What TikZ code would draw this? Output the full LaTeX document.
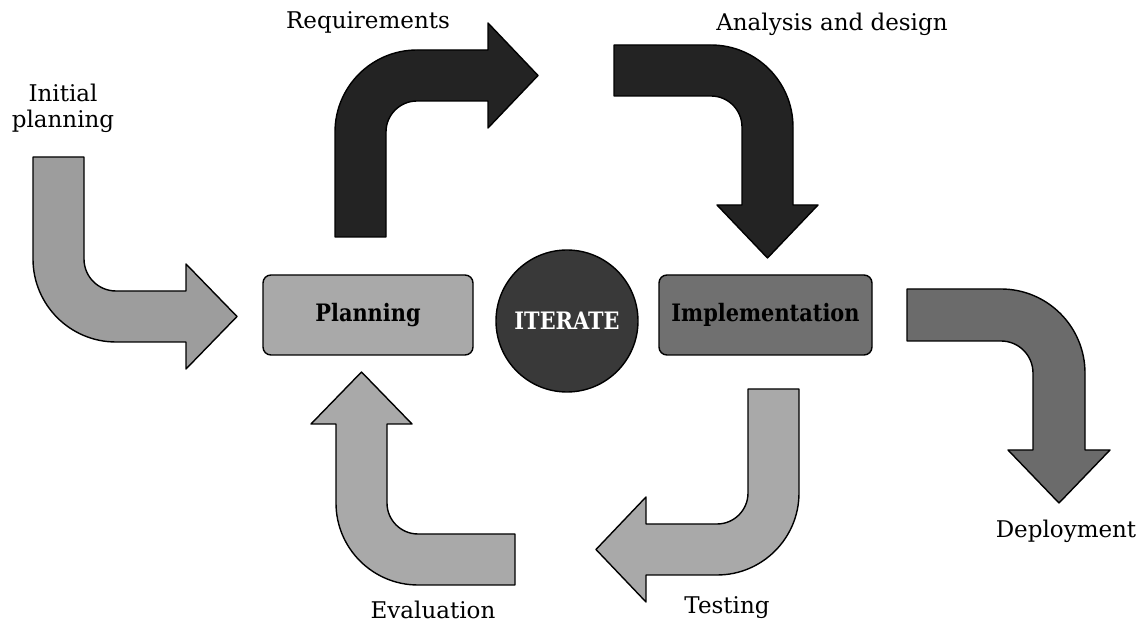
\documentclass[tikz,border=0pt]{standalone}
\usepackage{fontspec}
\setmainfont{DejaVu Serif}
\newfontfamily\boxfont[FakeStretch=0.87]{DejaVu Serif}
\definecolor{lightgrey}{HTML}{A9A9A9}
\definecolor{initgrey}{HTML}{9D9D9D}
\definecolor{midgrey}{HTML}{707070}
\definecolor{deepgrey}{HTML}{6B6B6B}
\definecolor{nearblack}{HTML}{232323}
\definecolor{iterfill}{HTML}{393939}

\begin{document}
\begin{tikzpicture}[x=0.5pt,y=-0.5pt,
    bent/.style={draw=black, line width=0.7pt, line join=round},
    stage/.style={draw=black, line width=0.7pt, rounded corners=4pt, minimum width=105pt, minimum height=40pt, font=\boxfont\bfseries\fontsize{12}{14}\selectfont},
    lbl/.style={font=\fontsize{11.5}{13}\selectfont, align=center}]
    \useasboundingbox (0,0) rectangle (1142,630);

    % the three boxes in the middle
    \node (planning) [stage, fill=lightgrey] at (368,315) {Planning};
    \node (impl) [stage, fill=midgrey, minimum width=106.5pt] at (765.5,315) {Implementation};
    \node (iterate) [circle, draw=black, line width=0.7pt, fill=iterfill, minimum size=71pt, text=white,
        font=\boxfont\bfseries\fontsize{12}{14}\selectfont] at (567,321) {ITERATE};

    % bent arrows
    \draw[bent, fill=initgrey] (33,157) -- (84,157) -- (84,259) arc[start angle=180, end angle=90, radius=32]
        -- (186,291) -- (186,264) -- (237,316.5) -- (186,369) -- (186,342) -- (116,342)
        arc[start angle=90, end angle=180, radius=83] -- cycle;
    \draw[bent, fill=nearblack] (335,237) -- (335,132) arc[start angle=180, end angle=270, radius=82]
        -- (488,50) -- (488,23) -- (538,75.5) -- (488,128) -- (488,101) -- (417,101)
        arc[start angle=270, end angle=180, radius=31] -- (386,237) -- cycle;
    \draw[bent, fill=nearblack] (614,45) -- (711,45) arc[start angle=270, end angle=360, radius=82]
        -- (793,205) -- (818,205) -- (767.5,258) -- (717,205) -- (742,205) -- (742,127)
        arc[start angle=0, end angle=-90, radius=31] -- (614,96) -- cycle;
    \draw[bent, fill=deepgrey] (907,289) -- (1001,289) arc[start angle=270, end angle=360, radius=84]
        -- (1085,450) -- (1110,450) -- (1059,503) -- (1008,450) -- (1033,450) -- (1033,373)
        arc[start angle=0, end angle=-90, radius=32] -- (907,341) -- cycle;
    \draw[bent, fill=lightgrey] (748,389) -- (799,389) -- (799,493) arc[start angle=0, end angle=90, radius=82]
        -- (646,575) -- (646,602) -- (596,549.5) -- (646,497) -- (646,524) -- (717,524)
        arc[start angle=90, end angle=0, radius=31] -- cycle;
    \draw[bent, fill=lightgrey] (515,534) -- (418,534) arc[start angle=90, end angle=180, radius=31]
        -- (387,424) -- (412,424) -- (361.5,372) -- (311,424) -- (336,424) -- (336,503)
        arc[start angle=180, end angle=90, radius=82] -- (515,585) -- cycle;

    % labels
    \node (initial) [lbl] at (63,108) {Initial\\planning};
    \node (requirements) [lbl] at (368,22) {Requirements};
    \node (analysis) [lbl] at (832,24) {Analysis and design};
    \node (deployment) [lbl] at (1066,531) {Deployment};
    \node (evaluation) [lbl] at (433,610) {Evaluation};
    \node (testing) [lbl] at (727,608) {Testing};
\end{tikzpicture}
\end{document}
